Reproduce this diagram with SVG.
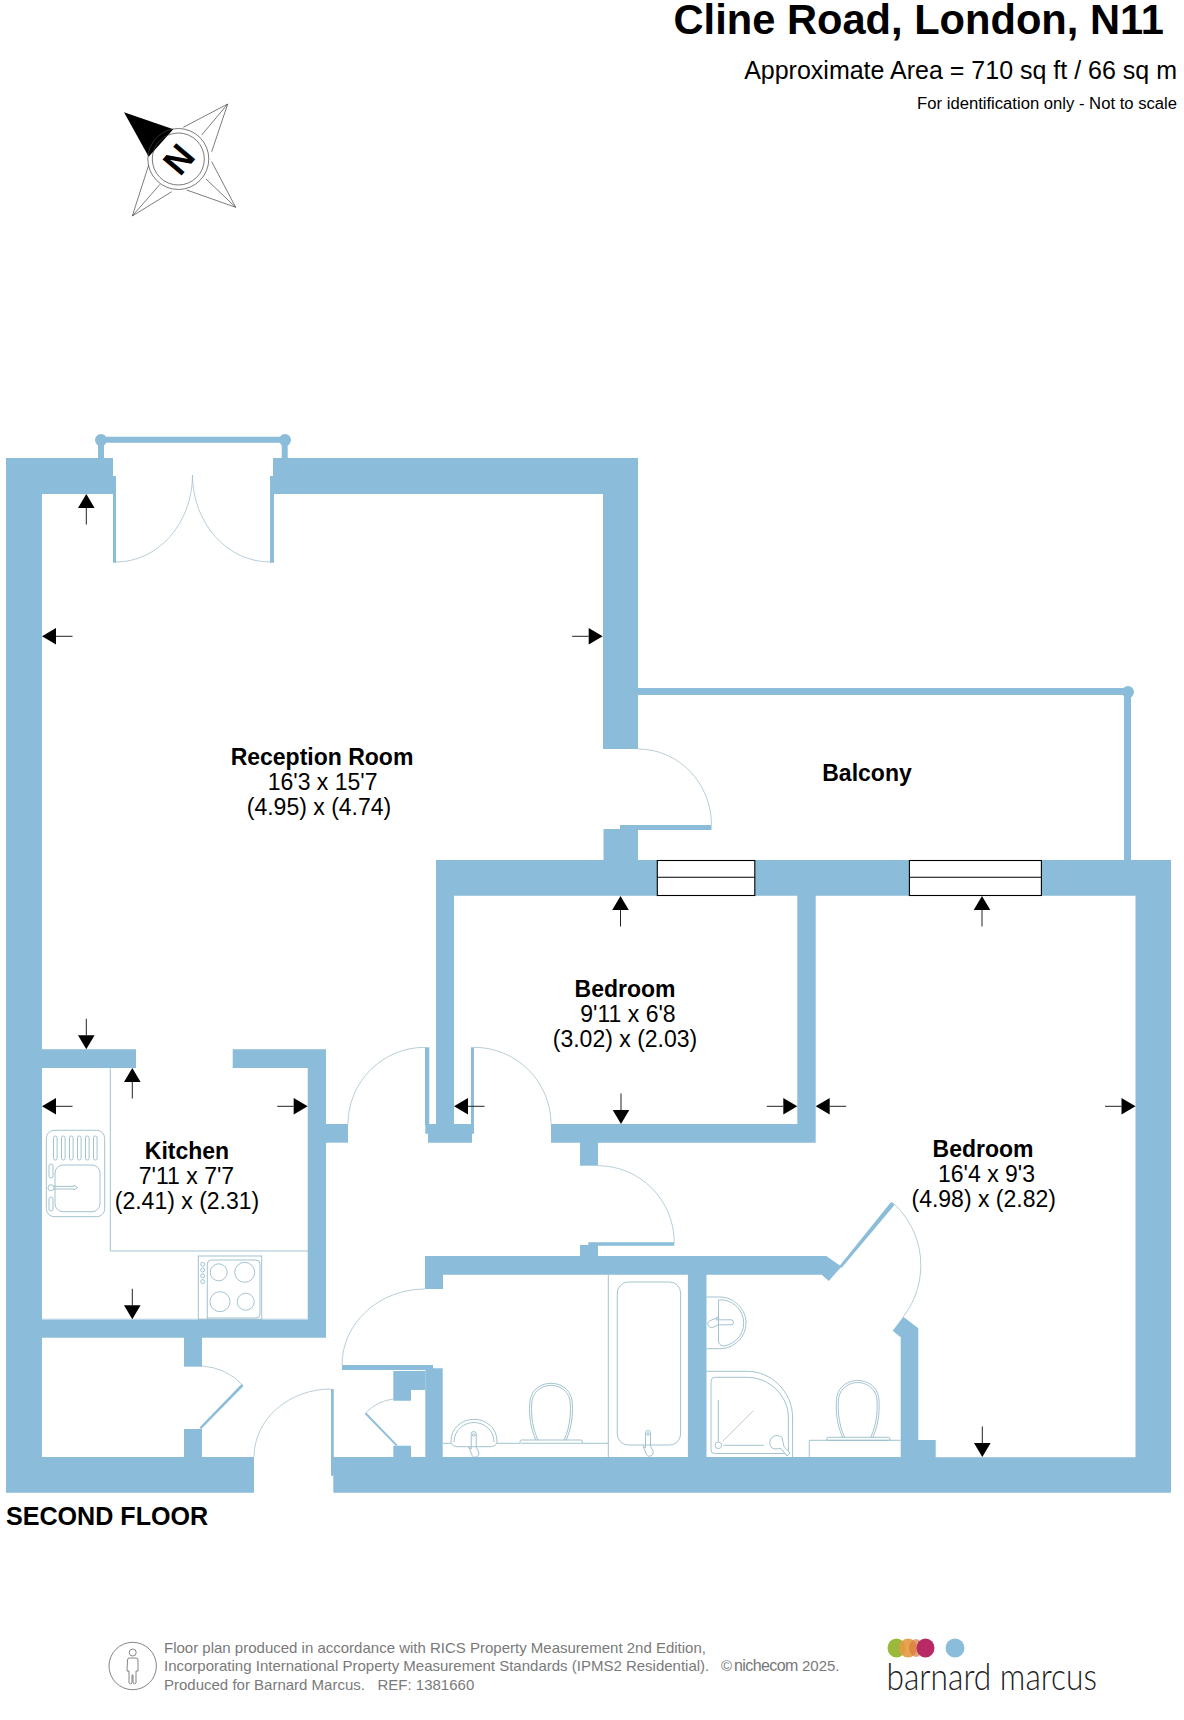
<svg xmlns="http://www.w3.org/2000/svg" xmlns:xlink="http://www.w3.org/1999/xlink" width="1184" height="1720" viewBox="0 0 1184 1720">
<style>
text{font-family:"Liberation Sans",Arial,sans-serif;fill:#000}
.w{fill:#8bbdda;stroke:none}
.a{fill:none;stroke:#a6c2ce;stroke-width:.8}
.f{fill:none;stroke:#98bccb;stroke-width:.9}
.l{fill:#fff;stroke:#98bccb;stroke-width:.9}
.r{font-size:23px;text-anchor:middle}
.b{font-weight:700}
.g{fill:#7a7a7a;font-size:15px}
.c{fill:none;stroke:#444;stroke-width:.7}
</style>
<defs>
<g id="arrow"><path d="M0 0L8.3 14H-8.3Z" fill="#000"/><path d="M0 14V30.5" stroke="#222" stroke-width="1" fill="none"/></g>
<g id="toilet"><path class="f" d="M6 57C-1 42-1 26 0 17C2 5 12 0 21 0C30 0 40 5 42 17C43 26 43 42 36 57"/><path class="f" d="M8 57C1 42 1 26 2 17C4 7 13 2 21 2C29 2 38 7 40 17C41 26 41 42 34 57"/></g>
<g id="tap"><path class="f" d="M-2.5 0a2.5 2.5 0 0 1 5 0V13L5 18a3.5 4 0 1 1-7 2L-5 13l2.5 2Z"/><circle class="f" cx="0" cy="1" r="1.3"/></g>
</defs>

<g id="compass">
<path class="c" d="M227.7 104L183.3 127.3M227.7 104L211.7 151.7M227.7 104L201.7 135M235.7 207.3L211.7 161.7M235.7 207.3L186.7 190M235.7 207.3L206 179M132.3 216L148.7 165M132.3 216L171.7 191.7M132.3 216L160 184.3"/>
<path d="M124 112.3L173.3 129.3L148.7 156.7Z" fill="#000"/>
<circle class="c" cx="178.3" cy="159" r="30.5" fill="#fff"/>
<circle class="c" cx="178.3" cy="159" r="26"/>
<text transform="translate(178.3 159) rotate(-50)" y="13" text-anchor="middle" font-size="36" font-weight="700">N</text>
</g>

<g id="walls">
<path class="w" d="M6 458H113V476H116V494H42V1457H184V1429H202V1457H254V1492.7H6Z"/>
<path class="w" d="M98 458V441H104V458ZM281.7 458V441H287.7V458ZM101 436.7H285V442.7H101Z"/>
<circle class="w" cx="101" cy="440" r="6"/><circle class="w" cx="285" cy="440" r="6"/>
<path class="w" d="M113 476H116V562.7H113ZM270 476H274V562.7H270Z"/>
<path class="w" d="M273 458H638V749H603V494H270V476H273Z"/>
<path class="w" d="M638 688H1128V695H638Z"/>
<circle class="w" cx="1128" cy="692" r="6"/>
<path class="w" d="M1124 692H1131V861H1124Z"/>
<path class="w" d="M620 825H711.5V830H620ZM603.5 829H638V861H603.5Z"/>
<path class="w" d="M436 860H1171V1492.7H333.3V1475.7H331V1389H333.7V1457H393.3V1445.7H411V1457H425.3V1370H342V1365H433V1368.3H442.7V1457H687.9V1274.7H443V1289H425V1256H580V1245H588.3V1242.3H674.3V1245.7H598V1256H826.3L841.5 1266.7L828.7 1281L821.8 1274.7H706.5V1457H900.7V1337.3L892.7 1330.7L903.3 1316.7L918.3 1328.3V1440H935.7V1457.3H1135.5V895.7H815.7V1142.7H551V1124H797.3V895.7H454V1124H474V1133.7H472V1142.7H428V1133.7H425.3V1124H436Z"/>
<path class="w" d="M393.3 1371H425.3V1390H411V1400.7H393.3Z"/>
<path class="w" d="M425 1047.3H429.3V1125H425ZM471 1047.3H474V1125H471Z"/>
<path class="w" d="M580 1142H598V1165.7H580Z"/>
<path class="w" d="M42 1049.3H136V1068H42ZM232.7 1049.3H326V1337.7H42V1319.3H307.7V1068H232.7Z"/>
<path class="w" d="M326 1124H348V1142.7H326Z"/>
<path class="w" d="M184 1337H202V1366.7H184Z"/>
<path class="w" d="M241.5 1384L243.5 1386L201 1429.3L199.5 1427.5Z"/>
<path class="w" d="M364.8 1414L366.2 1412.6L397.5 1445L396 1446Z"/>
<path class="w" d="M839.5 1266L891 1202L894.5 1205L841.5 1268Z"/>
</g>

<g id="windows" fill="#fff" stroke="#000" stroke-width="1.1">
<rect x="657.3" y="860.5" width="97.5" height="35"/><path d="M657.3 877.3H754.8"/>
<rect x="909.4" y="860.5" width="132" height="35"/><path d="M909.4 877.3H1041.4"/>
</g>

<g id="door-swings">
<path class="a" d="M116 562A76.5 87 0 0 0 192.5 475M270 562A77.5 87 0 0 1 192.5 475"/>
<path class="a" d="M638 749A73.5 76 0 0 1 711.5 825"/>
<path class="a" d="M348 1124A77 76.7 0 0 1 425 1047.3"/>
<path class="a" d="M474 1047.3A77 76.7 0 0 1 551 1124"/>
<path class="a" d="M598 1165.7A76.3 77 0 0 1 674.3 1242.7"/>
<path class="a" d="M342 1365A83 76 0 0 1 425 1289"/>
<path class="a" d="M254 1457A77 68 0 0 1 331 1389"/>
<path class="a" d="M202 1366A62 62 0 0 1 242.7 1385"/>
<path class="a" d="M393.3 1399A46 46 0 0 0 365.3 1413.3"/>
<path class="a" d="M892 1202A84 84 0 0 1 903.3 1316.7"/>
</g>

<g id="kitchen-fittings">
<path class="f" d="M110.3 1068V1251H308"/>
<path d="M42 1319H308" stroke="#cfe3ee" stroke-width="1"/>
<rect class="f" x="46.3" y="1130.3" width="58.4" height="86.4" rx="8"/>
<rect x="53.5" y="1136" width="3.6" height="24" rx="1.8" class="f"/><rect x="61.5" y="1136" width="3.6" height="24" rx="1.8" class="f"/><rect x="69.5" y="1136" width="3.6" height="24" rx="1.8" class="f"/><rect x="77.5" y="1136" width="3.6" height="24" rx="1.8" class="f"/><rect x="85.5" y="1136" width="3.6" height="24" rx="1.8" class="f"/><rect x="93.5" y="1136" width="3.6" height="24" rx="1.8" class="f"/>
<rect class="f" x="55" y="1165" width="45" height="46.7" rx="8"/>
<rect class="f" x="49" y="1164" width="4" height="14" rx="2"/><rect class="f" x="49" y="1197" width="4" height="14" rx="2"/>
<circle class="l" cx="51" cy="1187.7" r="3"/>
<path class="f" d="M54 1186.4H74V1185L77.5 1187.7L74 1190V1189H54"/>
<rect class="f" x="198.3" y="1256" width="63.4" height="63.3"/>
<path class="f" d="M207.3 1319V1264a4 4 0 0 1 4-4H256a4 4 0 0 1 4 4V1314a4 4 0 0 1-4 4H207.3"/>
<circle class="f" cx="218.7" cy="1272.3" r="8.5"/><circle class="f" cx="244.7" cy="1272.3" r="10"/><circle class="f" cx="220" cy="1301.7" r="10"/><circle class="f" cx="245.7" cy="1301.7" r="8.5"/>
<circle class="f" cx="202.7" cy="1264.3" r="2"/><circle class="f" cx="202.7" cy="1270" r="2"/><circle class="f" cx="202.7" cy="1275.8" r="2"/><circle class="f" cx="202.7" cy="1281.6" r="2"/>
</g>

<g id="bathroom-fittings">
<path class="f" d="M443 1443.3H451M497 1443.3H520M582 1443.3H608.3M608.3 1274.7V1457"/>
<path class="f" d="M451 1441C451 1428 462 1419.3 474 1419.3C486 1419.3 497 1428 497 1441C497 1445 494 1446.7 490 1446.7H458C454 1446.7 451 1445 451 1441Z"/>
<path class="f" d="M454 1442C454 1430 464 1422.5 474 1422.5C484 1422.5 494 1430 494 1442"/>
<use xlink:href="#tap" href="#tap" x="473.7" y="1434"/>
<use xlink:href="#toilet" href="#toilet" x="530" y="1383.3"/>
<rect class="f" x="520" y="1440" width="62.5" height="3.3" rx="1.6"/>
<rect class="f" x="617.3" y="1282" width="63.3" height="163" rx="11"/>
<use xlink:href="#tap" href="#tap" x="648" y="1433"/>
<path class="f" d="M706.5 1297H720C734 1297 746 1309 746 1323C746 1337 734 1348.7 720 1348.7H706.5"/>
<path class="f" d="M718.5 1300V1341C718.5 1344 721 1346 724 1346C735 1344 743.7 1335 743.7 1323C743.7 1311 735 1302 724 1300Z"/>
<g transform="translate(731 1322.3) rotate(90)"><path class="f" d="M-2.5 0a2.5 2.5 0 0 1 5 0V13L5 18a3.5 4 0 1 1-7 2L-5 13l2.5 2Z"/></g>
<path class="f" d="M706.5 1371.3H747C772 1371.3 792.6 1392 792.6 1418V1457"/>
<path class="f" d="M711 1450a3.5 3.5 0 0 0 3.5 3.5H788.4V1418C788.4 1395 769 1377.3 747 1377.3H715a4 4 0 0 0-4 4Z"/>
<path class="f" d="M718.3 1400V1441.7M723.3 1445.3H764"/>
<circle class="f" cx="718.3" cy="1445.3" r="3.3"/>
<path d="M722.3 1441.7L753.3 1410.7" stroke="#c6c6c6" stroke-width=".9"/>
<path class="l" d="M782 1437.5A7 7 0 1 0 772 1448L775 1449L781 1448.5L787 1456L790 1453L784 1446.5Z"/>
<use xlink:href="#toilet" href="#toilet" x="836.7" y="1380.5"/>
<rect class="f" x="826.7" y="1437.3" width="63.3" height="3" rx="1.5"/>
<path class="f" d="M900.7 1440.3H809.3V1457"/>
</g>

<g id="dimension-arrows">
<use xlink:href="#arrow" href="#arrow" transform="translate(86.3 494)"/>
<use xlink:href="#arrow" href="#arrow" transform="translate(42 636.3) rotate(-90)"/>
<use xlink:href="#arrow" href="#arrow" transform="translate(602.7 636.3) rotate(90)"/>
<use xlink:href="#arrow" href="#arrow" transform="translate(86.3 1049.3) rotate(180)"/>
<use xlink:href="#arrow" href="#arrow" transform="translate(132.3 1068)"/>
<use xlink:href="#arrow" href="#arrow" transform="translate(42 1106.3) rotate(-90)"/>
<use xlink:href="#arrow" href="#arrow" transform="translate(307.7 1106.3) rotate(90)"/>
<use xlink:href="#arrow" href="#arrow" transform="translate(132.3 1319.3) rotate(180)"/>
<use xlink:href="#arrow" href="#arrow" transform="translate(620.5 896)"/>
<use xlink:href="#arrow" href="#arrow" transform="translate(454 1106.3) rotate(-90)"/>
<use xlink:href="#arrow" href="#arrow" transform="translate(797.3 1106.3) rotate(90)"/>
<use xlink:href="#arrow" href="#arrow" transform="translate(621 1124) rotate(180)"/>
<use xlink:href="#arrow" href="#arrow" transform="translate(982 896)"/>
<use xlink:href="#arrow" href="#arrow" transform="translate(815.7 1106.3) rotate(-90)"/>
<use xlink:href="#arrow" href="#arrow" transform="translate(1135.5 1106.3) rotate(90)"/>
<use xlink:href="#arrow" href="#arrow" transform="translate(982.3 1457) rotate(180)"/>
</g>

<g id="room-labels">
<text class="r b" x="322" y="765">Reception Room</text><text class="r" x="322.6" y="790">16'3 x 15'7</text><text class="r" x="319" y="815">(4.95) x (4.74)</text>
<text class="r b" x="867" y="781">Balcony</text>
<text class="r b" x="625" y="997">Bedroom</text><text class="r" x="628" y="1022">9'11 x 6'8</text><text class="r" x="625" y="1047">(3.02) x (2.03)</text>
<text class="r b" x="187" y="1159">Kitchen</text><text class="r" x="186.5" y="1184">7'11 x 7'7</text><text class="r" x="187" y="1209">(2.41) x (2.31)</text>
<text class="r b" x="983" y="1157">Bedroom</text><text class="r" x="986.5" y="1182">16'4 x 9'3</text><text class="r" x="983.7" y="1207">(4.98) x (2.82)</text>
<text x="6" y="1525" font-size="25.1" font-weight="700">SECOND FLOOR</text>
</g>

<g id="title">
<text x="1164" y="34" font-size="41.65" font-weight="700" text-anchor="end">Cline Road, London, N11</text>
<text x="1177" y="79" font-size="25" text-anchor="end">Approximate Area = 710 sq ft / 66 sq m</text>
<text x="1177" y="109" font-size="16.65" text-anchor="end">For identification only - Not to scale</text>
</g>

<g id="footer">
<circle cx="132.7" cy="1666" r="23.7" fill="none" stroke="#777" stroke-width=".9"/>
<circle cx="132.7" cy="1652.5" r="3.5" fill="none" stroke="#777" stroke-width=".9"/>
<path d="M127.5 1660a2 2 0 0 1 2-2h6.5a2 2 0 0 1 2 2v11h-2v12a2 2 0 0 1-3 0v-8h-1v8a2 2 0 0 1-3 0v-12h-2Z" fill="none" stroke="#777" stroke-width=".9"/>
<text class="g" x="164" y="1653">Floor plan produced in accordance with RICS Property Measurement 2nd Edition,</text>
<text class="g" x="164" y="1671">Incorporating International Property Measurement Standards (IPMS2 Residential).</text>
<text class="g" x="164" y="1690">Produced for Barnard Marcus.</text>
<text class="g" x="377.5" y="1690">REF: 1381660</text>
<text class="g" x="721" y="1671">©</text>
<text x="734" y="1671" font-size="16" style="fill:#777;letter-spacing:-.6px">nichecom</text>
<text class="g" x="802" y="1671">2025.</text>
</g>

<g id="logo">
<ellipse cx="896.5" cy="1648" rx="9" ry="9.5" fill="#9cb83c"/>
<ellipse cx="908" cy="1648" rx="9" ry="9.5" fill="#e39a3f" opacity=".9"/>
<ellipse cx="916" cy="1648" rx="7" ry="9" fill="#d97a3f" opacity=".7"/>
<ellipse cx="925.5" cy="1648" rx="9" ry="9.5" fill="#b72a66"/>
<ellipse cx="955" cy="1648" rx="9.5" ry="9.5" fill="#8bbdda"/>
<text x="886.5" y="1689.5" font-size="37" font-weight="300" style="font-family:Lato,'Open Sans',sans-serif;fill:#222" textLength="210.5" lengthAdjust="spacingAndGlyphs">barnard marcus</text>
</g>
</svg>
